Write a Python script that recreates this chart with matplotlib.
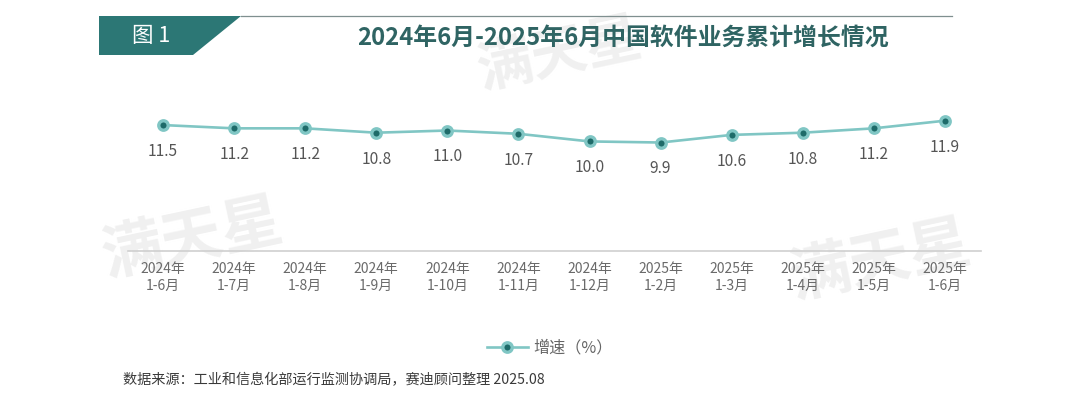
import matplotlib.pyplot as plt
from matplotlib.patches import Polygon
from matplotlib.lines import Line2D

plt.rcParams['font.family'] = ['Noto Sans CJK SC', 'DejaVu Sans']

# data
periods = ['2024年\n1-6月', '2024年\n1-7月', '2024年\n1-8月', '2024年\n1-9月',
           '2024年\n1-10月', '2024年\n1-11月', '2024年\n1-12月', '2025年\n1-2月',
           '2025年\n1-3月', '2025年\n1-4月', '2025年\n1-5月', '2025年\n1-6月']
growth = [11.5, 11.2, 11.2, 10.8, 11.0, 10.7, 10.0, 9.9, 10.6, 10.8, 11.2, 11.9]

title = '2024年6月-2025年6月中国软件业务累计增长情况'
fig_label = '图 1'
series_name = '增速（%）'
source = '数据来源：工业和信息化部运行监测协调局，赛迪顾问整理 2025.08'

W, H = 1080, 396
line_col = '#80c6c4'
dot_col = '#1e6b69'
teal = '#2c7775'

fig = plt.figure(figsize=(W / 100, H / 100), dpi=100)


def px(x, y):
    # pixel position (from top-left) -> figure fraction
    return x / W, 1 - y / H


# faint watermarks
for (wx, wy, fs) in [(192, 240, 44), (880, 262, 44), (560, 55, 40)]:
    fig.text(*px(wx, wy), '满天星', fontsize=fs, fontweight='bold', color='#f0f0f0',
             rotation=12, ha='center', va='center', zorder=0)

# header
box = Polygon([px(99, 16), px(241, 16), px(193, 55), px(99, 55)],
              closed=True, transform=fig.transFigure, facecolor=teal, edgecolor='none')
fig.patches.append(box)
fig.add_artist(Line2D([241 / W, 952 / W], [1 - 16 / H, 1 - 16 / H],
                      transform=fig.transFigure, color='#7f8f8f', lw=0.9))
fig.text(*px(151, 36), fig_label, color='white', fontsize=15.5, ha='center', va='center')
fig.text(*px(623, 38), title, color='#2f6463', fontsize=17.2, fontweight='bold',
         ha='center', va='center')

# plot area
left, right, bottom, top = 127.5, 980.5, 250.5, 97.8
ax = fig.add_axes([left / W, 1 - bottom / H, (right - left) / W, (bottom - top) / H])
ax.set_zorder(2)
ax.patch.set_alpha(0)

x = list(range(len(periods)))
ax.plot(x, growth, color=line_col, lw=1.9, marker='o', markersize=6.8,
        markerfacecolor=dot_col, markeredgecolor=line_col, markeredgewidth=2.4,
        label=series_name, zorder=3)

for xi, v in zip(x, growth):
    ax.annotate(f'{v:.1f}', (xi, v), xytext=(0, -19), textcoords='offset points',
                ha='center', va='center', fontsize=11.2, color='#555555')

ax.set_xlim(-0.5, len(periods) - 0.5)
ax.set_ylim(0, 14)
ax.set_xticks(x)
ax.set_xticklabels(periods, fontsize=10, color='#6a6a6a', linespacing=1.2)
ax.tick_params(axis='x', length=0, pad=8.5)
ax.set_yticks([])
for s in ['top', 'left', 'right']:
    ax.spines[s].set_visible(False)
ax.spines['bottom'].set_color('#cfcfcf')
ax.spines['bottom'].set_linewidth(1.2)

leg = fig.legend(handles=ax.get_lines(), loc='center', bbox_to_anchor=px(550, 348),
                 frameon=False, fontsize=11.6, handlelength=2.5, handletextpad=0.35,
                 borderaxespad=0)
for t in leg.get_texts():
    t.set_color('#666666')

fig.text(*px(123, 380), source, fontsize=10.2, color='#3a3a3a', ha='left', va='center')

fig.savefig('out.png', dpi=100)
